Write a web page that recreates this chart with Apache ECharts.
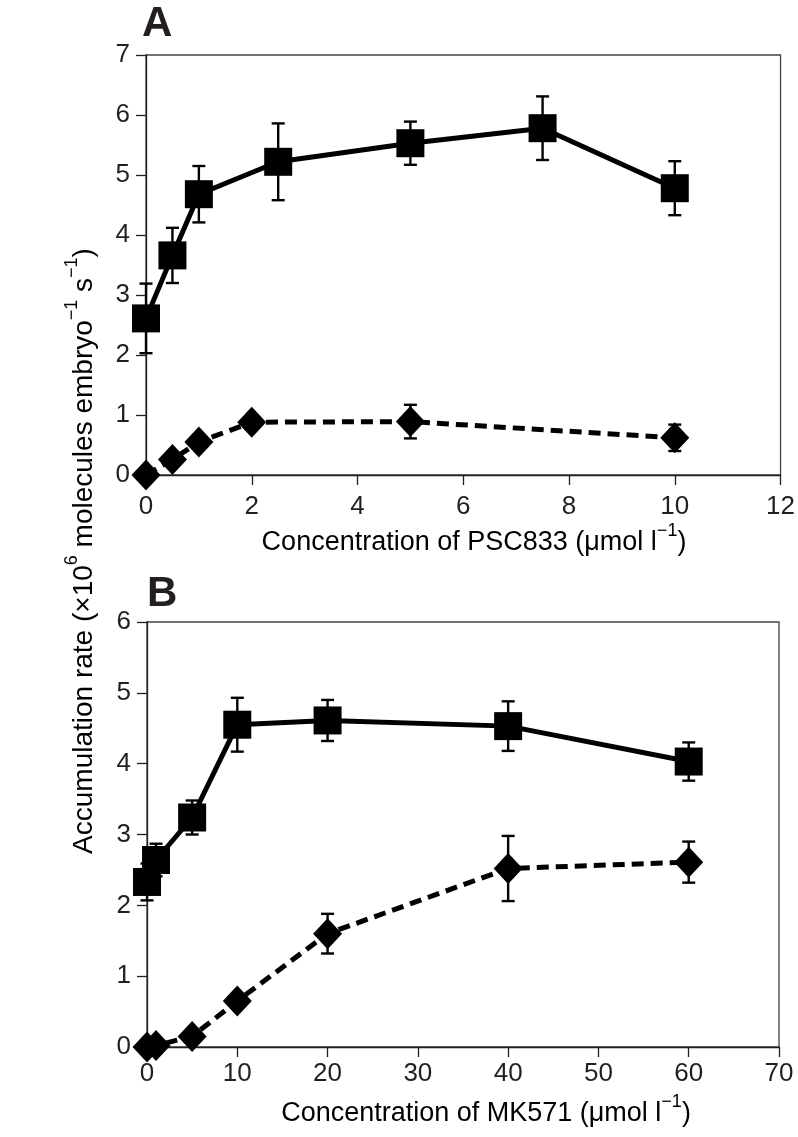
<!DOCTYPE html>
<html><head><meta charset="utf-8">
<script src="https://cdn.jsdelivr.net/npm/echarts@6/dist/echarts.min.js"></script>
<style>html,body{margin:0;padding:0;background:#fff}#c{width:798px;height:1137px}</style>
</head><body><div id="c"></div>
<script>
// Panel A: PSC833
const aX = [0, 0.5, 1, 2.5, 5, 7.5, 10];
const aSquare = [2.61, 3.66, 4.68, 5.22, 5.53, 5.78, 4.78];
const aSquareErr = [0.58, 0.46, 0.47, 0.64, 0.36, 0.53, 0.45];
const aDX = [0, 0.5, 1, 2, 5, 10];
const aDiamond = [0.0, 0.26, 0.55, 0.88, 0.89, 0.62];
const aDiamondErr = [0, 0, 0, 0, 0.28, 0.22];
// Panel B: MK571
const bX = [0, 1, 5, 10, 20, 40, 60];
const bSquare = [2.33, 2.64, 3.24, 4.55, 4.61, 4.53, 4.03];
const bSquareErr = [0.26, 0.23, 0.24, 0.38, 0.29, 0.35, 0.27];
const bDX = [0, 1, 5, 10, 20, 40, 60];
const bDiamond = [0.0, 0.02, 0.15, 0.65, 1.60, 2.52, 2.61];
const bDiamondErr = [0, 0, 0, 0, 0.28, 0.46, 0.29];

const aXTicks = {min: 0, max: 12, interval: 2};
const aYTicks = {min: 0, max: 7, interval: 1};
const bXTicks = {min: 0, max: 70, interval: 10};
const bYTicks = {min: 0, max: 6, interval: 1};

const txt = '#231f20';
const font = 'Liberation Sans, Arial, Helvetica, sans-serif';

function pts(xs, ys) { return xs.map((x, i) => [x, ys[i]]); }
function errPts(xs, ys, es) { return xs.map((x, i) => [x, ys[i] - es[i], ys[i] + es[i], es[i]]); }

function errSeries(idx, data) {
  return {
    type: 'custom', xAxisIndex: idx, yAxisIndex: idx, z: 3, clip: false,
    data: data,
    renderItem: function (params, api) {
      if (api.value(3) <= 0) return null;
      const lo = api.coord([api.value(0), api.value(1)]);
      const hi = api.coord([api.value(0), api.value(2)]);
      const w = 6.5;
      const st = {stroke: '#000', lineWidth: 2.4};
      return {type: 'group', children: [
        {type: 'line', shape: {x1: lo[0], y1: lo[1], x2: hi[0], y2: hi[1]}, style: st},
        {type: 'line', shape: {x1: lo[0]-w, y1: lo[1], x2: lo[0]+w, y2: lo[1]}, style: st},
        {type: 'line', shape: {x1: hi[0]-w, y1: hi[1], x2: hi[0]+w, y2: hi[1]}, style: st}
      ]};
    }
  };
}

function xAxis(idx, t, margin) {
  return {
    type: 'value', gridIndex: idx, min: t.min, max: t.max, interval: t.interval,
    axisLine: {show: true, lineStyle: {color: '#231f20', width: 1.3}},
    axisTick: {show: true, inside: false, length: 10, lineStyle: {color: '#231f20', width: 1.3}},
    axisLabel: {color: txt, fontSize: 26, fontFamily: font, margin: margin},
    splitLine: {show: false}
  };
}
function yAxis(idx, t) {
  return {
    type: 'value', gridIndex: idx, min: t.min, max: t.max, interval: t.interval,
    axisLine: {show: true, lineStyle: {color: '#231f20', width: 1.3}},
    axisTick: {show: true, inside: false, length: 10, lineStyle: {color: '#231f20', width: 1.3}},
    axisLabel: {color: txt, fontSize: 26, fontFamily: font, margin: 16},
    splitLine: {show: false}
  };
}
function lineSeries(idx, data, symbol, size, dashed) {
  return {
    type: 'line', xAxisIndex: idx, yAxisIndex: idx, data: data, z: 4, clip: false,
    symbol: symbol, symbolSize: size, showSymbol: true,
    itemStyle: {color: '#000'},
    lineStyle: {color: '#000', width: 5, type: dashed ? [12, 7] : 'solid'},
    animation: false
  };
}

const richX = {
  base: {fontSize: 27, fontFamily: font, color: txt, lineHeight: 34, verticalAlign: 'bottom'},
  sup: {fontSize: 18, fontFamily: font, color: txt, lineHeight: 34, verticalAlign: 'top'}
};
const richY = {
  base: {fontSize: 28, fontFamily: font, color: txt, lineHeight: 35, verticalAlign: 'bottom'},
  sup: {fontSize: 18, fontFamily: font, color: txt, lineHeight: 35, verticalAlign: 'top'}
};

const chart = echarts.init(document.getElementById('c'));
chart.setOption({
  animation: false,
  backgroundColor: '#fff',
  grid: [
    {left: 146, top: 55, width: 637, height: 420, show: true, borderColor: '#444', borderWidth: 1.3},
    {left: 147, top: 622, width: 632, height: 425, show: true, borderColor: '#444', borderWidth: 1.3}
  ],
  xAxis: [xAxis(0, aXTicks, 19), xAxis(1, bXTicks, 14)],
  yAxis: [yAxis(0, aYTicks), yAxis(1, bYTicks)],
  series: [
    errSeries(0, errPts(aX, aSquare, aSquareErr)),
    errSeries(0, errPts(aDX, aDiamond, aDiamondErr)),
    lineSeries(0, pts(aX, aSquare), 'rect', 28, false),
    lineSeries(0, pts(aDX, aDiamond), 'diamond', [29, 31], true),
    errSeries(1, errPts(bX, bSquare, bSquareErr)),
    errSeries(1, errPts(bDX, bDiamond, bDiamondErr)),
    lineSeries(1, pts(bX, bSquare), 'rect', 28, false),
    lineSeries(1, pts(bDX, bDiamond), 'diamond', [29, 31], true)
  ],
  graphic: [
    {type: 'text', left: 142, top: 3, style: {text: 'A', font: 'bold 42px ' + font, fill: txt}},
    {type: 'text', left: 147, top: 573, style: {text: 'B', font: 'bold 42px ' + font, fill: txt}},
    {type: 'text', x: 474, y: 539, style: {text: '{base|Concentration of PSC833 (μmol l}{sup|−1}{base|)}', rich: richX, align: 'center', verticalAlign: 'middle'}},
    {type: 'text', x: 486, y: 1110, style: {text: '{base|Concentration of MK571 (μmol l}{sup|−1}{base|)}', rich: richX, align: 'center', verticalAlign: 'middle'}},
    {type: 'text', x: 81, y: 551, rotation: Math.PI / 2, style: {text: '{base|Accumulation rate (×10}{sup|6}{base| molecules embryo}{sup|−1}{base| s}{sup|−1}{base|)}', rich: richY, align: 'center', verticalAlign: 'middle'}}
  ]
});
</script>
</body></html>
